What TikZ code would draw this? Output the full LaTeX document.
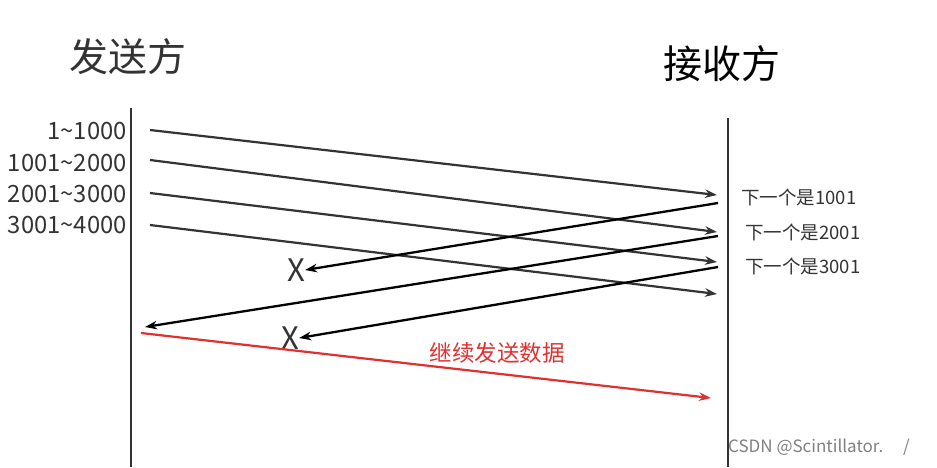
\documentclass[tikz,border=0pt]{standalone}
\usepackage{fontspec}
\setmainfont{Noto Sans CJK SC}
\usetikzlibrary{arrows.meta}
\definecolor{dgray}{HTML}{333333}
\definecolor{myred}{HTML}{E03030}
\tikzset{
  msg/.style={line width=2.2pt, dgray, -{Stealth[length=12pt,width=8.5pt]}},
  ack/.style={line width=2.3pt, black, -{Stealth[length=12pt,width=8.5pt]}},
  redmsg/.style={line width=2.2pt, myred, -{Stealth[length=12pt,width=8.5pt]}},
  lifeline/.style={line width=2.3pt, dgray},
  seg/.style={anchor=east, font=\fontsize{23.8}{26}\selectfont, text=dgray, inner sep=0pt},
  rlab/.style={anchor=west, font=\fontsize{18.5}{20}\selectfont, text=dgray, inner sep=0pt},
  title/.style={font=\fontsize{39}{41}\selectfont, inner sep=0pt},
  xmark/.style={font=\fontsize{31}{33}\selectfont, text=dgray, inner sep=0pt}
}
\begin{document}
\begin{tikzpicture}[x=1pt,y=-1pt]
\useasboundingbox (0,0) rectangle (937,467);
% titles
\node[title, text=dgray] (snd) at (128,57) {发送方};
\node[title, text=black] (rcv) at (722,64) {接收方};
% lifelines
\coordinate (lt) at (131,108); \coordinate (lb) at (131,467);
\coordinate (rt) at (728,118); \coordinate (rb) at (728,467);
\draw[lifeline] (lt) -- (lb);
\draw[lifeline] (rt) -- (rb);
% segment labels
\node[seg] (s1) at (127,131) {1\textasciitilde1000};
\node[seg] (s2) at (127,163) {1001\textasciitilde2000};
\node[seg] (s3) at (127,194) {2001\textasciitilde3000};
\node[seg] (s4) at (127,225) {3001\textasciitilde4000};
% data arrows
\coordinate (a1) at (150,130); \coordinate (b1) at (717,195);
\coordinate (a2) at (150,160); \coordinate (b2) at (717,232);
\coordinate (a3) at (150,193); \coordinate (b3) at (717,262);
\coordinate (a4) at (150,225); \coordinate (b4) at (717,294);
\draw[msg] (a1) -- (b1);
\draw[msg] (a2) -- (b2);
\draw[msg] (a3) -- (b3);
\draw[msg] (a4) -- (b4);
% ack labels
\node[rlab] (k1) at (741,197) {下一个是1001};
\node[rlab] (k2) at (745,232) {下一个是2001};
\node[rlab] (k3) at (745,266) {下一个是3001};
% lost markers
\node[xmark] (x1) at (296,270) {X};
\node[xmark] (x2) at (290,338) {X};
% ack arrows
\coordinate (c1) at (718,203);
\coordinate (c2) at (718,236); \coordinate (d2) at (145,327);
\coordinate (c3) at (718,267);
\draw[ack] (c1) -- (x1.east);
\draw[ack] (c2) -- (d2);
\draw[ack] (c3) -- (x2.east);
% continue sending
\coordinate (e1) at (141,333); \coordinate (e2) at (711,398);
\draw[redmsg] (e1) -- (e2);
\node[font=\fontsize{22.5}{24}\selectfont, text=myred, inner sep=0pt] (cont) at (497,353) {继续发送数据};
% watermark
\node[anchor=west, font=\fontsize{17}{19}\selectfont, text=gray, inner sep=0pt] (wm) at (728,447) {CSDN @Scintillator.\hspace{20pt}/};
\end{tikzpicture}
\end{document}
